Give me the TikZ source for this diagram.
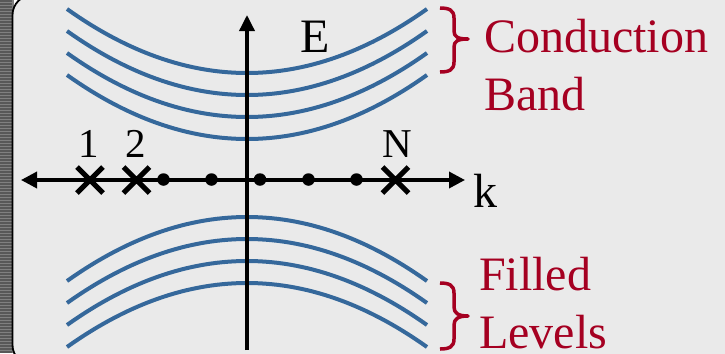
\documentclass[tikz,border=0pt]{standalone}
\usepackage{fontspec}
\setmainfont{Liberation Serif}
\usetikzlibrary{arrows.meta,shapes.misc}
\definecolor{bandblue}{RGB}{53,104,155}
\definecolor{labelred}{RGB}{165,0,33}
\definecolor{panelgray}{RGB}{234,234,234}
\definecolor{stripdark}{RGB}{88,88,88}
\definecolor{striplight}{RGB}{128,128,128}
\begin{document}
\begin{tikzpicture}[x=1bp,y=-1bp,
  band/.style={draw=bandblue,line width=4bp},
  axisline/.style={line width=3.5bp},
  crossmark/.style={cross out,draw=black,line width=5bp,minimum size=21bp,inner sep=0pt},
  kdot/.style={circle,fill=black,inner sep=0pt,minimum size=12.5bp},
  biglabel/.style={inner sep=0pt,font=\fontsize{48bp}{56bp}\selectfont},
  smalllabel/.style={inner sep=0pt,font=\fontsize{41bp}{48bp}\selectfont},
  redlabel/.style={biglabel,text=labelred,anchor=base west},
  bracestyle/.style={draw=labelred,line width=3.5bp,line join=round}
]
\useasboundingbox (0,0) rectangle (725,353);
% left strip
\fill[striplight] (0,0) rectangle (14,353);
\foreach \yy in {0,3,...,351} {\fill[stripdark] (0,\yy) rectangle (12,\yy+1.5);}
% panel
\filldraw[fill=panelgray,draw=black,line width=1.8bp,rounded corners=20bp] (12.5,-5) rectangle (780,365);
% conduction band curves
\foreach \yb in {73,95,117,139} {
  \draw[band] plot[domain=-180:180,samples=61] ({247+\x},{\yb-64*(\x/180)^2});
}
% filled levels curves
\foreach \yp in {217,239,261,283} {
  \draw[band] plot[domain=-180:180,samples=61] ({247+\x},{\yp+64*(\x/180)^2});
}
% axes
\coordinate (eBot) at (247,350);
\coordinate (eTop) at (247,15);
\coordinate (kLeft) at (21,180);
\coordinate (kRight) at (465,180);
\draw[axisline,-{Triangle[length=16bp,width=15bp]}] (eBot) -- (eTop);
\draw[axisline,{Triangle[length=16bp,width=16bp]}-{Triangle[length=16bp,width=16bp]}] (kLeft) -- (kRight);
% points on k axis
\node[crossmark] (x1) at (90,180) {};
\node[crossmark] (x2) at (136.5,180) {};
\node[crossmark] (xN) at (395.5,180) {};
\node[kdot] (d1) at (163.5,179.5) {};
\node[kdot] (d2) at (211.5,179.5) {};
\node[kdot] (d3) at (260,179.5) {};
\node[kdot] (d4) at (308.5,179.5) {};
\node[kdot] (d5) at (356.5,179.5) {};
% axis labels
\node[smalllabel,anchor=base] (l1) at (89,157) {1};
\node[smalllabel,anchor=base] (l2) at (136,157) {2};
\node[smalllabel,anchor=base] (lN) at (397.5,157) {N};
\node[biglabel,anchor=base] (lE) at (315.5,52) {E};
\node[biglabel,anchor=base] (lk) at (485.5,207) {k};
% braces
\draw[bracestyle] (440,8) .. controls (449,8) and (454,10) .. (454,18) -- (454,31)
  .. controls (454,37) and (458,39) .. (468,39)
  .. controls (458,39) and (454,41) .. (454,47) -- (454,62)
  .. controls (454,70) and (449,72) .. (440,72);
\draw[bracestyle] (440,283) .. controls (449,283) and (454,285) .. (454,293) -- (454,307)
  .. controls (454,313) and (458,316) .. (468,316)
  .. controls (458,316) and (454,319) .. (454,325) -- (454,339)
  .. controls (454,347) and (449,349) .. (440,349);
% red labels
\node[redlabel] (tCond) at (484,52) {Conduction};
\node[redlabel] (tBand) at (484,110) {Band};
\node[redlabel] (tFill) at (479,290) {Filled};
\node[redlabel] (tLev) at (479,348) {Levels};
\end{tikzpicture}
\end{document}
